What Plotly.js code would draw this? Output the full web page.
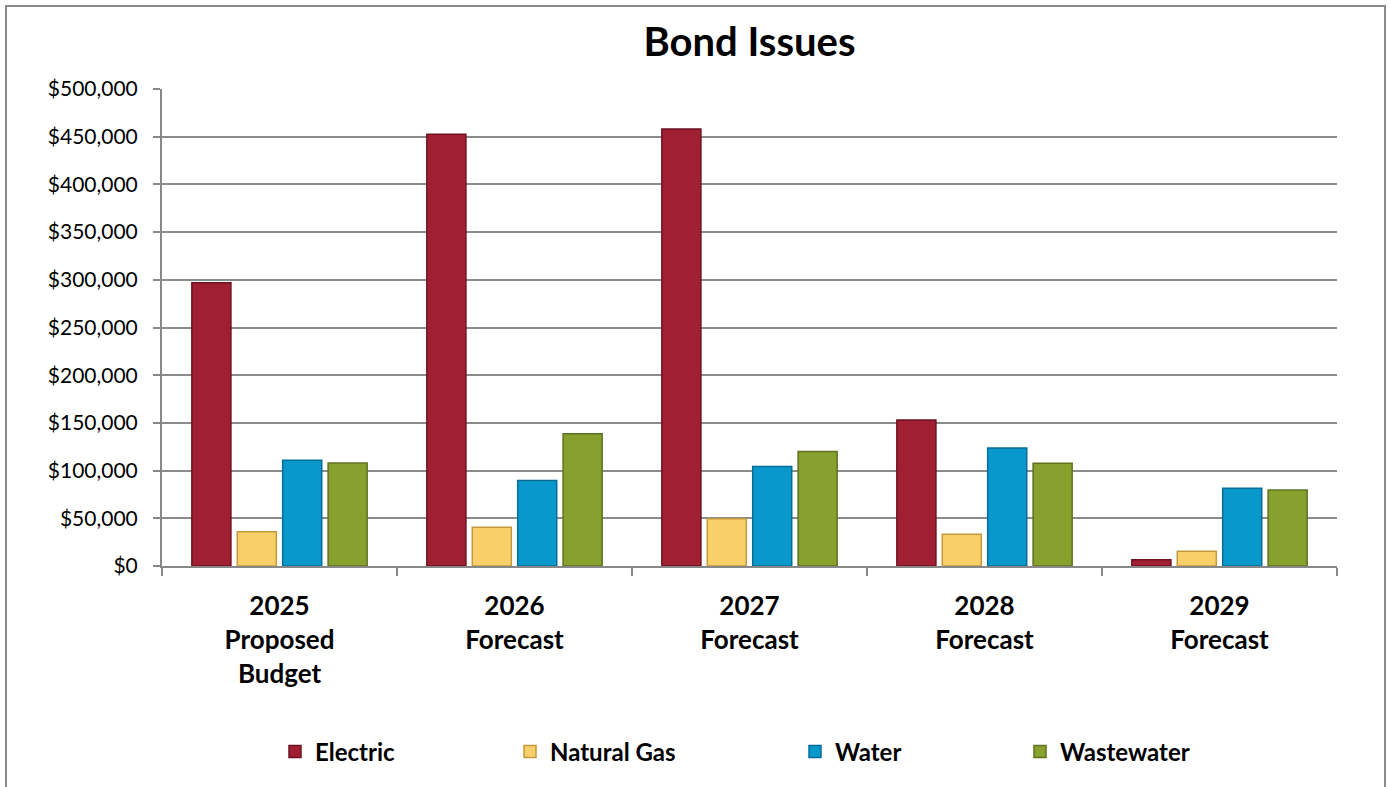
<!DOCTYPE html>
<html><head><meta charset="utf-8">
<script src="https://cdn.plot.ly/plotly-3.0.1.min.js"></script>
<style>
html,body{margin:0;padding:0;background:#fff;overflow:hidden;}
#chart{width:1390px;height:787px;}
#frame{position:absolute;left:5px;top:5px;width:1377px;height:800px;border:2px solid #8a8a8a;pointer-events:none;}
</style>
</head><body>
<div id="chart"></div><div id="frame"></div>
<script>
const categories = ['2025<br>Proposed<br>Budget', '2026<br>Forecast', '2027<br>Forecast', '2028<br>Forecast', '2029<br>Forecast'];
const seriesNames = ['Electric', 'Natural Gas', 'Water', 'Wastewater'];
const electric   = [297000, 452500, 458000, 153000, 6500];
const naturalGas = [36000, 40600, 49500, 33200, 15500];
const water      = [110800, 89500, 104200, 123800, 81400];
const wastewater = [108000, 138500, 120000, 107700, 79700];

const fills = ['#A01F33', '#F9CF6A', '#0898CB', '#88A02E'];
const edges = ['#6E1220', '#C49A3E', '#066E96', '#5F7220'];
const values = [electric, naturalGas, water, wastewater];
const legendIds = ['legend', 'legend2', 'legend3', 'legend4'];

const traces = values.map((v, i) => ({
  type: 'bar',
  name: seriesNames[i],
  x: categories,
  y: v,
  legend: legendIds[i],
  marker: {color: fills[i], line: {color: edges[i], width: 1.5}},
  hoverinfo: 'skip'
}));

const textStarts = [317, 552, 837, 1062];
const plotL = 162, plotW = 1175;
const legendFont = {family: 'Lato, "Open Sans", sans-serif', size: 24, weight: 'bold', color: '#000'};

const layout = {
  width: 1390, height: 787,
  margin: {l: 162, r: 53, t: 89, b: 221},
  paper_bgcolor: '#fff', plot_bgcolor: '#fff',
  font: {family: 'Lato, "Open Sans", sans-serif', color: '#000'},
  title: {text: 'Bond Issues', font: {size: 40, weight: 'bold', color: '#000'},
          xref: 'paper', x: 0.5, xanchor: 'center', yref: 'container', y: 1 - 42/787, yanchor: 'middle'},
  barmode: 'group', bargap: 0.227, bargroupgap: 0.14,
  xaxis: {
    type: 'category', tickson: 'boundaries', ticks: 'outside', ticklen: 8,
    tickcolor: '#888', tickwidth: 2, showline: true, linecolor: '#888', linewidth: 2,
    showgrid: false, tickfont: {size: 26, weight: 'bold', color: '#000'},
    ticklabelstandoff: 16
  },
  yaxis: {
    range: [0, 500000], tick0: 0, dtick: 50000, tickprefix: '$', tickformat: ',d',
    showgrid: true, gridcolor: '#8c8c8c', gridwidth: 2, zeroline: false,
    ticks: 'outside', ticklen: 7, tickcolor: '#888', tickwidth: 2,
    showline: true, linecolor: '#888', linewidth: 2,
    tickfont: {size: 21, color: '#000'}, ticklabelstandoff: 11
  },
  showlegend: true
};
legendIds.forEach((id, i) => {
  layout[id] = {
    orientation: 'h', xref: 'paper', yref: 'paper',
    x: (textStarts[i] - 42 - plotL) / plotW, xanchor: 'left',
    y: (566 - 752) / 477, yanchor: 'middle',
    font: legendFont, bgcolor: 'rgba(0,0,0,0)', itemwidth: 30
  };
});

Plotly.newPlot('chart', traces, layout, {displayModeBar: false, staticPlot: true});
</script>
</body></html>
